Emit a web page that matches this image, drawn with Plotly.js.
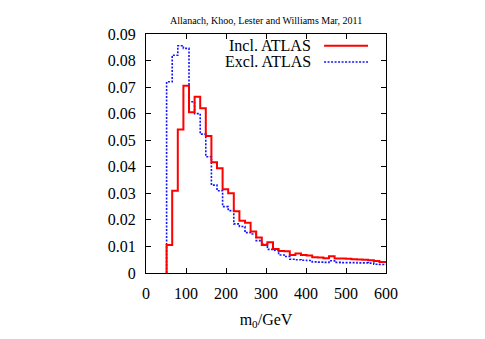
<!DOCTYPE html>
<html>
<head>
<meta charset="utf-8">
<script src="https://cdn.plot.ly/plotly-3.0.1.min.js"></script>
<style>
html,body{margin:0;padding:0;background:#fff;}
#chart{width:485px;height:339px;}
</style>
</head>
<body>
<div id="chart"></div>
<script>
// Histogram of m0 (GeV): bins of 14 GeV starting at 51.5 GeV
const binStart = 51.5;
const binWidth = 14;
const inclAtlas = [
  0.0105, 0.031, 0.054, 0.0705, 0.0605, 0.0664, 0.062, 0.0516, 0.0417, 0.0394,
  0.0315, 0.030, 0.0233, 0.0197, 0.0189, 0.0156, 0.0134, 0.0105, 0.0116, 0.009,
  0.0083, 0.0082, 0.0068, 0.0073, 0.0068, 0.0066, 0.0059, 0.0058, 0.0056, 0.0063,
  0.0055, 0.0055, 0.0054, 0.0052, 0.0051, 0.0050, 0.0048, 0.0045, 0.0041
];
const exclAtlas = [
  0.072, 0.082, 0.0856, 0.0846, 0.0645, 0.060, 0.0523, 0.0438, 0.0331, 0.031,
  0.025, 0.0235, 0.0185, 0.0175, 0.0152, 0.0147, 0.0122, 0.0108, 0.0089, 0.0086,
  0.0068, 0.0062, 0.0052, 0.0050, 0.0048, 0.0047, 0.0042, 0.0041, 0.0040, 0.0046,
  0.0040, 0.0039, 0.0039, 0.0039, 0.0038, 0.0038, 0.0037, 0.0033, 0.0032
];
const xTickVals = [0, 100, 200, 300, 400, 500, 600];
const yTickVals = [0, 0.01, 0.02, 0.03, 0.04, 0.05, 0.06, 0.07, 0.08, 0.09];
const yTickText = ['0', '0.01', '0.02', '0.03', '0.04', '0.05', '0.06', '0.07', '0.08', '0.09'];
const xMax = 600;

function stepXY(vals) {
  const x = [binStart], y = [0];
  vals.forEach((v, i) => { x.push(binStart + i * binWidth); y.push(v); });
  x.push(xMax); y.push(vals[vals.length - 1]);
  return {x, y};
}

const incl = stepXY(inclAtlas);
const excl = stepXY(exclAtlas);

const serif = 'Liberation Serif, Times New Roman, serif';

const traces = [
  {
    x: excl.x, y: excl.y, type: 'scatter', mode: 'lines', name: 'Excl. ATLAS',
    line: {shape: 'hv', color: 'rgb(20,20,255)', width: 1.6, dash: '2px,1.5px'},
    showlegend: false, hoverinfo: 'skip'
  },
  {
    x: incl.x, y: incl.y, type: 'scatter', mode: 'lines', name: 'Incl. ATLAS',
    line: {shape: 'hv', color: 'rgb(255,0,0)', width: 2},
    showlegend: false, hoverinfo: 'skip'
  }
];

const layout = {
  width: 485, height: 339,
  margin: {l: 146, r: 99, t: 34, b: 66, pad: 0},
  paper_bgcolor: '#fff', plot_bgcolor: '#fff',
  font: {family: serif, color: '#000'},
  title: {
    text: 'Allanach, Khoo, Lester and Williams Mar, 2011',
    font: {family: serif, size: 10, color: '#000'},
    x: 0.5486, xanchor: 'center', y: 0.94, yanchor: 'middle'
  },
  xaxis: {
    range: [0, 600], tickvals: xTickVals, ticktext: xTickVals.map(String),
    ticks: 'inside', ticklen: 5, tickwidth: 1, tickcolor: '#000',
    showline: true, linecolor: '#000', linewidth: 1, mirror: 'ticks',
    showgrid: false, zeroline: false,
    tickfont: {family: serif, size: 16, color: '#000'},
    ticklabelstandoff: 6,
    title: {text: 'm<sub>0</sub>/GeV', font: {family: serif, size: 16, color: '#000'}, standoff: 12}
  },
  yaxis: {
    range: [0, 0.09], tickvals: yTickVals, ticktext: yTickText,
    ticks: 'inside', ticklen: 5, tickwidth: 1, tickcolor: '#000',
    showline: true, linecolor: '#000', linewidth: 1, mirror: 'ticks',
    showgrid: false, zeroline: false,
    tickfont: {family: serif, size: 16, color: '#000'},
    ticklabelstandoff: 6
  },
  annotations: [
    {xref: 'paper', yref: 'paper', x: 0.695, y: 0.951, xanchor: 'right', yanchor: 'middle',
     text: 'Incl. ATLAS', showarrow: false, font: {family: serif, size: 16, color: '#000'}},
    {xref: 'paper', yref: 'paper', x: 0.695, y: 0.883, xanchor: 'right', yanchor: 'middle',
     text: 'Excl. ATLAS', showarrow: false, font: {family: serif, size: 16, color: '#000'}}
  ],
  shapes: [
    {type: 'line', xref: 'paper', yref: 'paper', x0: 0.742, x1: 0.925, y0: 0.951, y1: 0.951,
     line: {color: 'rgb(255,0,0)', width: 2}},
    {type: 'line', xref: 'paper', yref: 'paper', x0: 0.742, x1: 0.925, y0: 0.883, y1: 0.883,
     line: {color: 'rgb(20,20,255)', width: 1.6, dash: '2px,1.5px'}}
  ]
};

Plotly.newPlot('chart', traces, layout, {staticPlot: true, displayModeBar: false});
</script>
</body>
</html>
